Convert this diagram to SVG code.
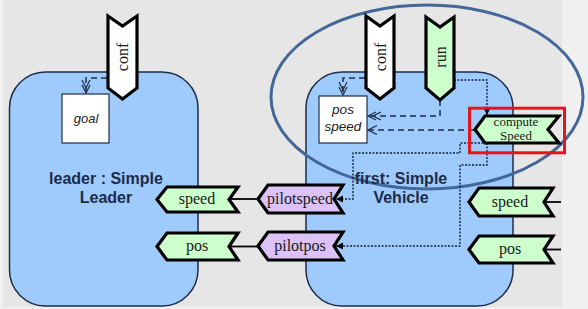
<svg xmlns="http://www.w3.org/2000/svg" width="588" height="309" viewBox="0 0 588 309">
<style>
.box{fill:#9ecbfb;stroke:#1e2c48;stroke-width:1.5}
.port{stroke:#000;stroke-width:3.2;stroke-linejoin:miter}
.white{fill:#ffffff}
.green{fill:#ccffcc}
.purple{fill:#dcc2f6}
.ptxt{font-family:"Liberation Serif","Times New Roman",serif;font-size:16px;fill:#1a1a1a;text-anchor:middle}
.small{font-size:13px}
.lbl{font-family:"Liberation Sans",Arial,sans-serif;font-weight:bold;font-size:16px;fill:#1d2a48;text-anchor:middle}
.itxt{font-family:"Liberation Sans",Arial,sans-serif;font-style:italic;font-size:13.5px;fill:#222;text-anchor:middle}
.dash{fill:none;stroke:#1e2c48;stroke-width:1.5;stroke-dasharray:6,4}
.dot{fill:none;stroke:#14203a;stroke-width:1.4;stroke-dasharray:2,1.5}
.solid{fill:none;stroke:#000;stroke-width:1.8}
.rbox{fill:#ffffff;stroke:#1e2c48;stroke-width:1.2}
</style>
<defs>
<marker id="dblv" markerUnits="userSpaceOnUse" markerWidth="16" markerHeight="10" viewBox="-14 -5 16 10" refX="0" refY="0" orient="auto">
<path d="M-8,-4 L0,0 L-8,4 M-13,-4 L-5,0 L-13,4" fill="none" stroke="#1e2c48" stroke-width="1.2"/>
</marker>
<marker id="onev" markerUnits="userSpaceOnUse" markerWidth="12" markerHeight="10" viewBox="-10 -5 12 10" refX="0" refY="0" orient="auto">
<path d="M-9,-4.5 L0,0 L-9,4.5" fill="none" stroke="#1e2c48" stroke-width="1.2"/>
</marker>
<marker id="fill" markerUnits="userSpaceOnUse" markerWidth="10" markerHeight="8" viewBox="-8 -4 10 8" refX="0" refY="0" orient="auto">
<path d="M-7,-3.5 L0,0 L-7,3.5 Z" fill="#000"/>
</marker>
</defs>
<rect x="0" y="0" width="588" height="309" fill="#f0f0f0"/>
<rect x="3" y="0" width="559" height="307" fill="#e6e6e6"/>

<g id="leader">
<rect class="box" x="9.5" y="72" width="188.5" height="234" rx="36" ry="36"/>
<text class="lbl" x="106" y="184">leader : Simple</text>
<text class="lbl" x="106" y="203">Leader</text>
</g>
<g id="vehicle">
<rect class="box" x="306" y="72" width="207" height="234" rx="36" ry="36"/>
</g>

<ellipse id="group-ellipse" cx="427" cy="97" rx="156" ry="92" fill="none" stroke="#44679a" stroke-width="3"/>

<g id="vehicle-label">
<text class="lbl" x="401" y="184">first: Simple</text>
<text class="lbl" x="401" y="203">Vehicle</text>
</g>

<g id="goal">
<rect class="rbox" x="62" y="94" width="47" height="49"/>
<text class="itxt" x="86" y="123" style="font-size:13px">goal</text>
</g>
<g id="posspeed">
<rect class="rbox" x="319" y="96" width="48" height="47"/>
<text class="itxt" x="343" y="114">pos</text>
<text class="itxt" x="343" y="131">speed</text>
</g>

<g id="connectors">
<path class="dash" d="M107,78 H86 V93" marker-end="url(#dblv)"/>
<path class="dash" d="M365,78 H343 V95" marker-end="url(#dblv)"/>
<path class="dash" d="M440,100 V116 H368" marker-end="url(#dblv)"/>
<path class="dash" d="M474,130 H368" marker-end="url(#onev)"/>
<path class="dot" d="M454,80 H487 V115" marker-end="url(#fill)"/>
<path class="dot" d="M487,143 H460 V153 H353 V199 H336" marker-end="url(#fill)"/>
<path class="dot" d="M487,143 V165 H460 V246 H336" marker-end="url(#fill)"/>
<path class="solid" d="M229,199 H258"/>
<path class="solid" d="M229,246.5 H258"/>
<path class="solid" d="M544,202 H561"/>
<path class="solid" d="M544,249.5 H561"/>
</g>

<g id="leader-conf">
<polygon class="port white" points="108,16 122.5,26 137,16 137,88 122.5,99 108,88"/>
<text class="ptxt" transform="translate(128,57) rotate(-90)">conf</text>
</g>
<g id="vehicle-conf">
<polygon class="port white" points="366,16 380,26 394,16 394,88 380,99 366,88"/>
<text class="ptxt" transform="translate(385.5,57) rotate(-90)">conf</text>
</g>
<g id="vehicle-run">
<polygon class="port green" points="426,17 440,27 454,17 454,88 440,100 426,88"/>
<text class="ptxt" transform="translate(445.5,57) rotate(-90)">run</text>
</g>
<g id="computeSpeed">
<polygon class="port green" points="475,129.5 485,116 559,116 548,129.5 559,143 485,143"/>
<text class="ptxt small" x="516" y="126">compute</text>
<text class="ptxt small" x="516" y="140">Speed</text>
</g>
<g id="leader-speed">
<polygon class="port green" points="157,199.5 167,187 238,187 229,199.5 238,212 167,212"/>
<text class="ptxt" x="197" y="204">speed</text>
</g>
<g id="leader-pos">
<polygon class="port green" points="157,246.5 167,233 238,233 229,246.5 238,260 167,260"/>
<text class="ptxt" x="197" y="251">pos</text>
</g>
<g id="pilotspeed">
<polygon class="port purple" points="258,199 268,185 343,185 334,199 343,213 268,213"/>
<text class="ptxt" x="300" y="204">pilotspeed</text>
</g>
<g id="pilotpos">
<polygon class="port purple" points="258,246 268,232 343,232 334,246 343,260 268,260"/>
<text class="ptxt" x="300" y="251">pilotpos</text>
</g>
<g id="vehicle-speed">
<polygon class="port green" points="469,202 479,188 553,188 544,202 553,216 479,216"/>
<text class="ptxt" x="510" y="207">speed</text>
</g>
<g id="vehicle-pos">
<polygon class="port green" points="469,249.5 479,236 553,236 544,249.5 553,263 479,263"/>
<text class="ptxt" x="510" y="254">pos</text>
</g>

<rect id="highlight" x="469.5" y="108.2" width="95" height="44.6" fill="none" stroke="#e8141c" stroke-width="3"/>
</svg>
